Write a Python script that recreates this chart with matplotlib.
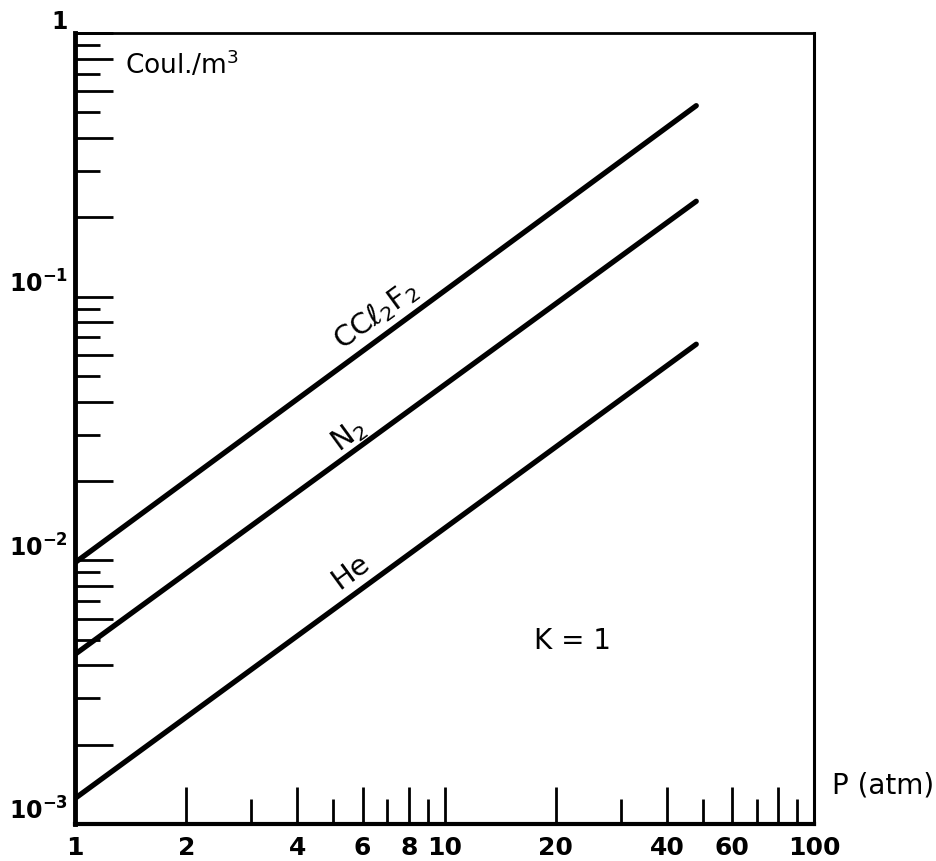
import matplotlib.pyplot as plt
import numpy as np
from matplotlib.ticker import NullFormatter
import math

plt.rcParams['font.family'] = ['DejaVu Sans']

# data
p_ends = [1, 48]
ccl2f2 = [0.0098, 0.53]
n2 = [0.0044, 0.23]
he = [0.00125, 0.066]

x_major = [1, 2, 4, 6, 8, 10, 20, 40, 60, 80, 100]
x_major_lbl = ['1', '2', '4', '6', '8', '10', '20', '40', '60', '', '100']
x_minor = [3, 5, 7, 9, 30, 50, 70, 90]

y_decades = [1e-3, 1e-2, 1e-1, 1]
y_decade_lbl = [r'$\mathbf{10^{-3}}$', r'$\mathbf{10^{-2}}$', r'$\mathbf{10^{-1}}$', '1']

fig = plt.figure(figsize=(9.36, 8.62), dpi=100)
ax = fig.add_axes([0.0801, 0.0429, 0.7896, 0.9177])
ax.set_xscale('log')
ax.set_yscale('log')
ax.set_xlim(1, 100)
ax.set_ylim(1e-3, 1)

for yy in (ccl2f2, n2, he):
    ax.plot(p_ends, yy, color='black', lw=3.8, solid_capstyle='round')

# ticks: even multiples long, odd multiples short
y_major = []
y_major_lbl = []
y_minor = []
for d, lbl in zip(y_decades, y_decade_lbl):
    y_major.append(d)
    y_major_lbl.append(lbl)
    if d < 1:
        for m in (2, 4, 6, 8):
            y_major.append(d * m)
            y_major_lbl.append('')
        for m in (3, 5, 7, 9):
            y_minor.append(d * m)

ax.set_xticks(x_major, x_major_lbl)
ax.set_xticks(x_minor, minor=True)
ax.set_yticks(y_major, y_major_lbl)
ax.set_yticks(y_minor, minor=True)
ax.xaxis.set_minor_formatter(NullFormatter())
ax.yaxis.set_minor_formatter(NullFormatter())

ax.tick_params(which='major', direction='in', length=27, width=2.0,
               top=False, right=False, labelsize=17, pad=8)
ax.tick_params(which='minor', direction='in', length=18, width=2.0,
               top=False, right=False)
ax.tick_params(axis='x', labelsize=18)
ax.tick_params(axis='y', pad=5)
for lbl in ax.get_xticklabels() + ax.get_yticklabels():
    lbl.set_fontweight('bold')
for lbl in ax.get_yticklabels():
    lbl.set_va('bottom')

ax.spines['left'].set_linewidth(3.5)
ax.spines['bottom'].set_linewidth(3.0)
ax.spines['top'].set_linewidth(2.0)
ax.spines['right'].set_linewidth(2.2)

# rotation of line labels in screen space
fig.canvas.draw()
a = ax.transData.transform((p_ends[0], n2[0]))
b = ax.transData.transform((p_ends[1], n2[1]))
ang = math.degrees(math.atan2(b[1] - a[1], b[0] - a[0]))

ax.text(6.5, 0.086, r'CC$\ell_2$F$_2$', rotation=ang, ha='center', va='center',
        fontsize=21)
ax.text(5.5, 0.030, r'N$_2$', rotation=ang, ha='center', va='center', fontsize=21)
ax.text(5.55, 0.0091, 'He', rotation=ang, ha='center', va='center', fontsize=21)
ax.text(22.2, 0.005, 'K = 1', ha='center', va='center', fontsize=20)
ax.text(0.068, 0.961, r'Coul./m$^3$', transform=ax.transAxes, ha='left',
        va='center', fontsize=19)
ax.text(1.024, 0.05, 'P (atm)', transform=ax.transAxes, ha='left',
        va='center', fontsize=20)

fig.savefig('out.png', dpi=100)
